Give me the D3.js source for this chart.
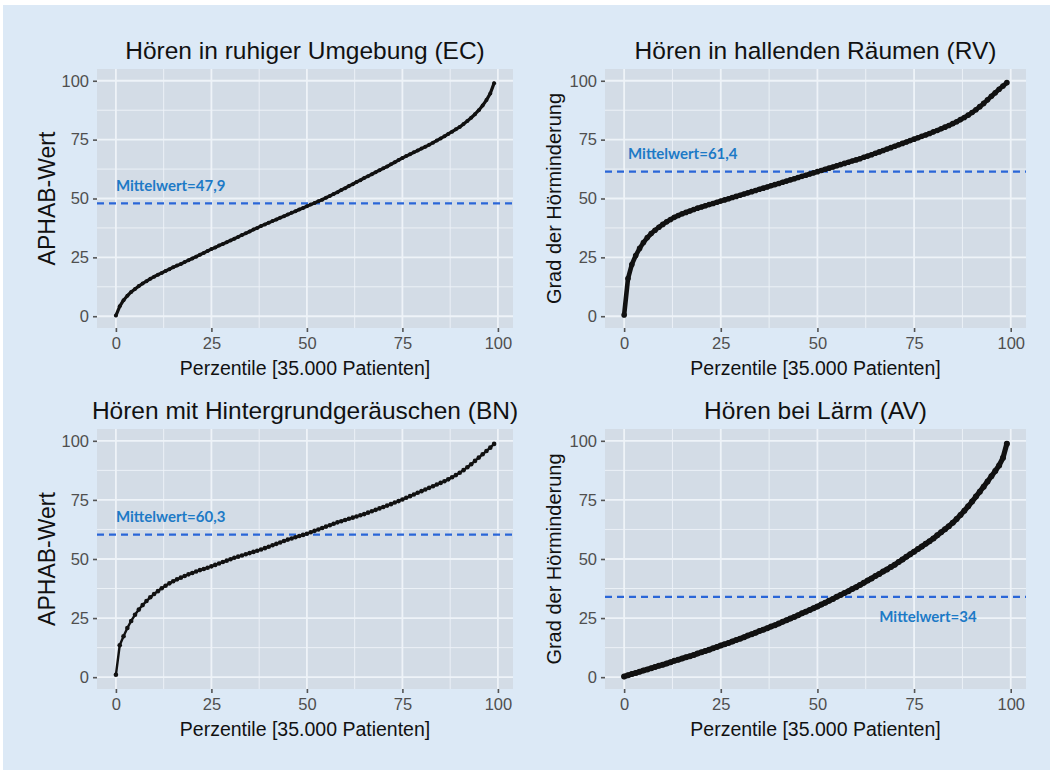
<!DOCTYPE html>
<html>
<head>
<meta charset="utf-8">
<script src="https://cdn.jsdelivr.net/npm/d3@7"></script>
<style>
  html, body { margin: 0; padding: 0; background: #ffffff; }
  svg { display: block; }
</style>
</head>
<body>
<svg id="chart" width="1050" height="770"></svg>
<script>
// Percentile rank of each plotted point (0 … 99)
const percentile = d3.range(0, 100);

// APHAB subscale scores per percentile
const ecValues = [
  0.3, 4.2, 6.8, 8.7, 10.3, 11.6, 12.8, 13.9, 14.9, 15.9,
  16.8, 17.6, 18.4, 19.2, 20.0, 20.8, 21.5, 22.2, 23.0, 23.8,
  24.5, 25.3, 26.1, 26.9, 27.7, 28.5, 29.2, 30.0, 30.7, 31.4,
  32.2, 32.9, 33.7, 34.5, 35.2, 36.0, 36.8, 37.5, 38.3, 39.0,
  39.7, 40.4, 41.1, 41.8, 42.5, 43.2, 43.9, 44.6, 45.3, 46.0,
  46.7, 47.4, 48.1, 48.8, 49.5, 50.3, 51.1, 51.9, 52.7, 53.6,
  54.4, 55.3, 56.1, 57.0, 57.8, 58.7, 59.5, 60.3, 61.2, 62.0,
  62.8, 63.6, 64.5, 65.4, 66.3, 67.2, 68.0, 68.8, 69.6, 70.4,
  71.2, 72.0, 72.8, 73.7, 74.6, 75.5, 76.4, 77.4, 78.4, 79.4,
  80.4, 81.6, 82.9, 84.3, 85.8, 87.5, 89.5, 91.8, 94.6, 99.0
];
const rvValues = [
  0.5, 16.0, 22.0, 25.8, 28.8, 31.3, 33.4, 35.1, 36.5, 37.8,
  39.0, 40.1, 41.1, 42.0, 42.8, 43.5, 44.1, 44.7, 45.3, 45.9,
  46.4, 46.9, 47.4, 47.9, 48.4, 48.9, 49.4, 49.9, 50.4, 50.9,
  51.4, 51.9, 52.4, 52.9, 53.4, 53.9, 54.4, 54.9, 55.4, 55.9,
  56.4, 56.9, 57.4, 57.9, 58.4, 58.9, 59.4, 59.9, 60.4, 60.9,
  61.4, 61.9, 62.4, 62.9, 63.4, 63.9, 64.4, 64.9, 65.4, 65.9,
  66.4, 66.9, 67.5, 68.0, 68.6, 69.2, 69.8, 70.4, 71.0, 71.6,
  72.2, 72.8, 73.4, 74.0, 74.6, 75.2, 75.8, 76.4, 77.0, 77.6,
  78.3, 78.9, 79.6, 80.3, 81.0, 81.8, 82.6, 83.5, 84.4, 85.4,
  86.5, 87.7, 89.0, 90.4, 91.9, 93.4, 94.9, 96.4, 97.8, 99.2
];
const bnValues = [
  1.0, 13.5, 17.3, 20.8, 23.8, 26.4, 28.6, 30.5, 32.2, 33.8,
  35.2, 36.4, 37.6, 38.7, 39.7, 40.6, 41.4, 42.1, 42.8, 43.5,
  44.1, 44.7, 45.3, 45.8, 46.3, 46.9, 47.5, 48.1, 48.7, 49.3,
  49.9, 50.5, 51.0, 51.5, 52.0, 52.5, 53.0, 53.5, 54.0, 54.6,
  55.2, 55.8, 56.4, 57.0, 57.6, 58.2, 58.7, 59.2, 59.7, 60.2,
  60.7, 61.3, 61.9, 62.5, 63.1, 63.7, 64.3, 64.9, 65.5, 66.0,
  66.5, 67.0, 67.5, 68.0, 68.5, 69.0, 69.6, 70.2, 70.8, 71.4,
  72.0, 72.6, 73.2, 73.9, 74.5, 75.2, 75.9, 76.6, 77.3, 78.0,
  78.7, 79.4, 80.1, 80.8, 81.5, 82.2, 82.9, 83.7, 84.6, 85.5,
  86.5, 87.6, 88.8, 90.1, 91.5, 92.9, 94.3, 95.7, 97.1, 98.7
];
const avValues = [
  0.3, 0.8, 1.3, 1.8, 2.3, 2.8, 3.3, 3.8, 4.3, 4.8,
  5.3, 5.8, 6.3, 6.9, 7.4, 7.9, 8.4, 8.9, 9.4, 10.0,
  10.5, 11.1, 11.6, 12.2, 12.8, 13.4, 13.9, 14.5, 15.1, 15.7,
  16.3, 16.9, 17.6, 18.2, 18.8, 19.5, 20.1, 20.7, 21.4, 22.0,
  22.7, 23.4, 24.1, 24.8, 25.5, 26.2, 27.0, 27.7, 28.4, 29.2,
  29.9, 30.7, 31.5, 32.3, 33.1, 34.0, 34.8, 35.6, 36.4, 37.3,
  38.1, 39.0, 39.9, 40.9, 41.8, 42.8, 43.7, 44.7, 45.6, 46.6,
  47.6, 48.7, 49.8, 50.9, 52.0, 53.1, 54.2, 55.3, 56.4, 57.5,
  58.7, 60.0, 61.3, 62.6, 63.9, 65.3, 66.9, 68.6, 70.4, 72.3,
  74.3, 76.4, 78.5, 80.6, 82.8, 85.0, 87.2, 89.6, 92.8, 98.8
];

// Mean score per subscale
const meanValues = [47.9, 61.4, 60.3, 34];

const titles = [
  "Hören in ruhiger Umgebung (EC)",
  "Hören in hallenden Räumen (RV)",
  "Hören mit Hintergrundgeräuschen (BN)",
  "Hören bei Lärm (AV)"
];
const yTitles = ["APHAB-Wert", "Grad der Hörminderung", "APHAB-Wert", "Grad der Hörminderung"];
const xTitle = "Perzentile [35.000 Patienten]";
const meanPrefix = "Mittelwert=";

const xTicks = [0, 25, 50, 75, 100];
const yTicks = [0, 25, 50, 75, 100];
const xMinorTicks = [12.5, 37.5, 62.5, 87.5];
const yMinorTicks = [12.5, 37.5, 62.5, 87.5];

const seriesValues = [ecValues, rvValues, bnValues, avValues];

// Panel geometry and mark styling
const panels = [
  { left: 97,  right: 513,  top: 69,  bottom: 328, yTitleX: 47,  yTitleSize: 23,
    labelX: 0, labelDy: -12, lineW: 3.2, r: 2.0 },
  { left: 605, right: 1026, top: 69,  bottom: 328, yTitleX: 554, yTitleSize: 20,
    labelX: 1, labelDy: -13, lineW: 4.6, r: 2.8 },
  { left: 97,  right: 513,  top: 429, bottom: 689, yTitleX: 47,  yTitleSize: 23,
    labelX: 0, labelDy: -13, lineW: 2.4, r: 2.3 },
  { left: 605, right: 1026, top: 429, bottom: 689, yTitleX: 554, yTitleSize: 20,
    labelX: 66, labelDy: 25, lineW: 5.2, r: 3.0 }
];

const colors = {
  page: "#dce9f6",
  panel: "#d3dce6",
  grid: "#eef3f8",
  tick: "#555555",
  tickText: "#4f4f4f",
  text: "#111111",
  meanLine: "#2a66d8",
  meanText: "#1d7ac6",
  point: "#111111"
};

const svg = d3.select("#chart");
svg.append("rect")
  .attr("x", 3).attr("y", 5).attr("width", 1047).attr("height", 765)
  .attr("fill", colors.page);

const fontMain = "'Liberation Sans', Arial, sans-serif";

panels.forEach((p, i) => {
  const values = seriesValues[i];
  const data = percentile.map((pc, k) => ({ x: pc, y: values[k] }));

  // ggplot-style 5% expansion of the data range
  const xExt = d3.extent(percentile);
  const xPad = (xExt[1] - xExt[0]) * 0.05;
  const x = d3.scaleLinear().domain([xExt[0] - xPad, xExt[1] + xPad]).range([p.left, p.right]);
  const y = d3.scaleLinear().domain([-5, 105]).range([p.bottom, p.top]);

  const g = svg.append("g");

  g.append("rect")
    .attr("x", p.left).attr("y", p.top)
    .attr("width", p.right - p.left).attr("height", p.bottom - p.top)
    .attr("fill", colors.panel);

  // minor grid
  g.selectAll(".vminor").data(xMinorTicks).enter().append("line")
    .attr("x1", d => x(d)).attr("x2", d => x(d))
    .attr("y1", p.top).attr("y2", p.bottom)
    .attr("stroke", colors.grid).attr("stroke-width", 0.9);
  g.selectAll(".hminor").data(yMinorTicks).enter().append("line")
    .attr("y1", d => y(d)).attr("y2", d => y(d))
    .attr("x1", p.left).attr("x2", p.right)
    .attr("stroke", colors.grid).attr("stroke-width", 0.9);
  // major grid
  g.selectAll(".vmajor").data(xTicks).enter().append("line")
    .attr("x1", d => x(d)).attr("x2", d => x(d))
    .attr("y1", p.top).attr("y2", p.bottom)
    .attr("stroke", colors.grid).attr("stroke-width", 1.8);
  g.selectAll(".hmajor").data(yTicks).enter().append("line")
    .attr("y1", d => y(d)).attr("y2", d => y(d))
    .attr("x1", p.left).attr("x2", p.right)
    .attr("stroke", colors.grid).attr("stroke-width", 1.8);

  // axes
  const xAxis = d3.axisBottom(x).tickValues(xTicks).tickSize(4).tickPadding(5);
  const yAxis = d3.axisLeft(y).tickValues(yTicks).tickSize(4).tickPadding(4);

  const gx = g.append("g").attr("transform", `translate(0,${p.bottom})`).call(xAxis);
  const gy = g.append("g").attr("transform", `translate(${p.left},0)`).call(yAxis);
  [gx, gy].forEach(ax => {
    ax.select(".domain").remove();
    ax.selectAll(".tick line").attr("stroke", colors.tick).attr("stroke-width", 1.6);
    ax.selectAll(".tick text")
      .attr("fill", colors.tickText)
      .style("font-family", fontMain)
      .style("font-size", "16.5px");
  });

  // mean line
  const mean = meanValues[i];
  g.append("line")
    .attr("x1", p.left).attr("x2", p.right)
    .attr("y1", y(mean)).attr("y2", y(mean))
    .attr("stroke", colors.meanLine).attr("stroke-width", 2.2)
    .attr("stroke-dasharray", "7,5");

  // percentile curve
  const line = d3.line().x(d => x(d.x)).y(d => y(d.y));
  g.append("path").datum(data)
    .attr("d", line)
    .attr("fill", "none")
    .attr("stroke", colors.point)
    .attr("stroke-width", p.lineW)
    .attr("stroke-linejoin", "round")
    .attr("stroke-linecap", "round");
  g.selectAll(".pt").data(data).enter().append("circle")
    .attr("cx", d => x(d.x)).attr("cy", d => y(d.y))
    .attr("r", p.r)
    .attr("fill", colors.point);

  // mean label
  g.append("text")
    .attr("x", x(p.labelX)).attr("y", y(mean) + p.labelDy)
    .attr("fill", colors.meanText)
    .style("font-family", "Lato, 'Open Sans', sans-serif")
    .style("font-weight", "700")
    .style("font-size", "15px")
    .text(meanPrefix + String(mean).replace(".", ","));

  // titles
  const cx = (p.left + p.right) / 2;
  g.append("text")
    .attr("x", cx).attr("y", p.top - 10)
    .attr("text-anchor", "middle")
    .attr("fill", colors.text)
    .style("font-family", fontMain)
    .style("font-size", "24.5px")
    .text(titles[i]);

  g.append("text")
    .attr("x", cx).attr("y", p.bottom + 47)
    .attr("text-anchor", "middle")
    .attr("fill", colors.text)
    .style("font-family", fontMain)
    .style("font-size", "19.5px")
    .text(xTitle);

  const cy = (p.top + p.bottom) / 2;
  g.append("text")
    .attr("transform", `translate(${p.yTitleX},${cy}) rotate(-90)`)
    .attr("text-anchor", "middle")
    .attr("dominant-baseline", "central")
    .attr("fill", colors.text)
    .style("font-family", fontMain)
    .style("font-size", p.yTitleSize + "px")
    .text(yTitles[i]);
});
</script>
</body>
</html>
